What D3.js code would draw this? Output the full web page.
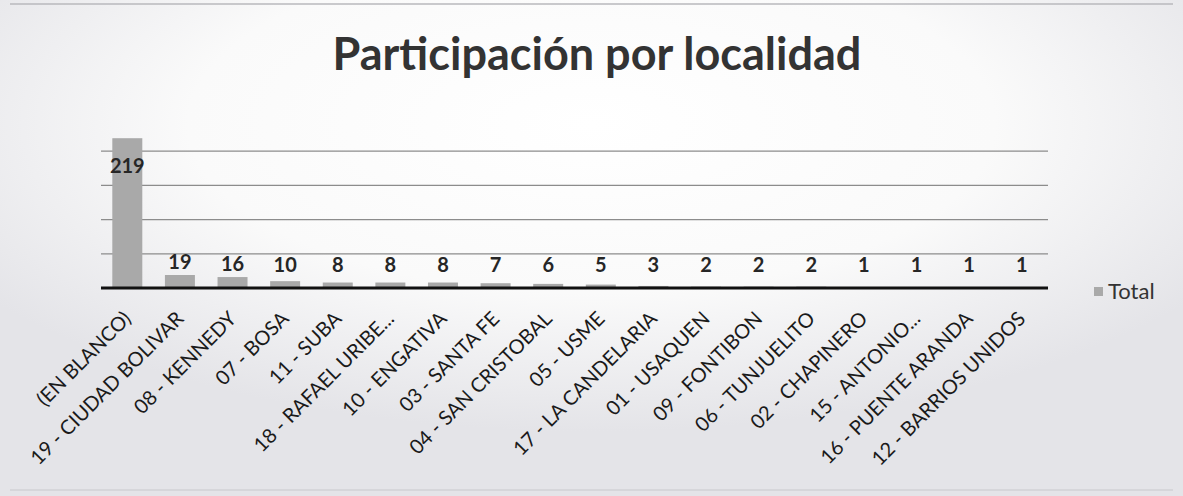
<!DOCTYPE html>
<html>
<head>
<meta charset="utf-8">
<script src="https://cdn.jsdelivr.net/npm/d3@7"></script>
<style>
  body { margin: 0; background: #ebebee; }
  text { font-family: Lato, 'Open Sans', sans-serif; }
</style>
</head>
<body>
<div id="container"></div>
<script>
// data
const localidades = [
  '(EN BLANCO)', '19 - CIUDAD BOLIVAR', '08 - KENNEDY', '07 - BOSA', '11 - SUBA',
  '18 - RAFAEL URIBE...', '10 - ENGATIVA', '03 - SANTA FE', '04 - SAN CRISTOBAL',
  '05 - USME', '17 - LA CANDELARIA', '01 - USAQUEN', '09 - FONTIBON',
  '06 - TUNJUELITO', '02 - CHAPINERO', '15 - ANTONIO...', '16 - PUENTE ARANDA',
  '12 - BARRIOS UNIDOS'
];
const totales = [219, 19, 16, 10, 8, 8, 8, 7, 6, 5, 3, 2, 2, 2, 1, 1, 1, 1];
const gridValues = [50, 100, 150, 200];
const seriesName = 'Total';
const title = 'Participación por localidad';

const width = 1183;
const height = 496;

const data = localidades.map((d, i) => ({ name: d, value: totales[i] }));

let base = d3.select('#container');

const svg = base
  .append('svg')
  .attr('width', width)
  .attr('height', height);

// background, scanned paper look: white centre, grey edges
const defs = svg.append('defs');
const grad = defs
  .append('radialGradient')
  .attr('id', 'paper')
  .attr('cx', 0.5)
  .attr('cy', 0.25)
  .attr('r', 0.62);
grad.append('stop').attr('offset', '0%').attr('stop-color', '#ffffff');
grad.append('stop').attr('offset', '55%').attr('stop-color', '#fafafa');
grad.append('stop').attr('offset', '100%').attr('stop-color', '#e4e4e8');

svg
  .append('rect')
  .attr('x', 0)
  .attr('y', 0)
  .attr('width', width)
  .attr('height', height)
  .attr('fill', 'url(#paper)');

// faint border lines of the printed chart
svg
  .append('line')
  .attr('x1', 10)
  .attr('x2', width - 10)
  .attr('y1', 4)
  .attr('y2', 4)
  .attr('stroke', '#b8b8bc')
  .attr('stroke-width', 1.5);
svg
  .append('line')
  .attr('x1', 10)
  .attr('x2', width - 10)
  .attr('y1', 490)
  .attr('y2', 490)
  .attr('stroke', '#d2d2d6')
  .attr('stroke-width', 1.5);

// scales
const margin = { left: 101, right: 135, top: 117, bottom: 208 };
const xScale = d3
  .scaleBand()
  .domain(localidades)
  .range([margin.left, width - margin.right])
  .paddingInner(0.43)
  .paddingOuter(0.215);

const yScale = d3
  .scaleLinear()
  .domain([0, 250])
  .range([height - margin.bottom, margin.top]);

const y0 = yScale(0);

// gridlines
svg
  .selectAll('.grid')
  .data(gridValues)
  .enter()
  .append('line')
  .attr('class', 'grid')
  .attr('x1', margin.left)
  .attr('x2', width - margin.right)
  .attr('y1', d => yScale(d))
  .attr('y2', d => yScale(d))
  .attr('stroke', '#8c8c8c')
  .attr('stroke-width', 1.2);

// bars
svg
  .selectAll('.bar')
  .data(data)
  .enter()
  .append('rect')
  .attr('class', 'bar')
  .attr('x', d => xScale(d.name))
  .attr('y', d => yScale(d.value))
  .attr('width', xScale.bandwidth())
  .attr('height', d => y0 - yScale(d.value))
  .attr('fill', '#a9a9a9');

// x axis line
svg
  .append('line')
  .attr('x1', margin.left)
  .attr('x2', width - margin.right)
  .attr('y1', y0)
  .attr('y2', y0)
  .attr('stroke', '#111')
  .attr('stroke-width', 3);

// data labels, inside the bar when it runs into the top
svg
  .selectAll('.label')
  .data(data)
  .enter()
  .append('text')
  .attr('class', 'label')
  .attr('x', d => xScale(d.name) + xScale.bandwidth() / 2)
  .attr('y', d => {
    let top = yScale(d.value);
    if (top - 30 < margin.top + 20) return top + 35;
    return Math.min(top - 6, y0 - 16);
  })
  .attr('text-anchor', 'middle')
  .attr('font-size', 20)
  .attr('font-weight', 'bold')
  .attr('fill', '#262626')
  .text(d => d.value);

// category labels rotated
const xAxis = d3.axisBottom(xScale).tickSize(0).tickPadding(0);
const gx = svg
  .append('g')
  .attr('transform', `translate(0,${y0})`)
  .call(xAxis);
gx.select('.domain').remove();
gx.selectAll('text')
  .attr('font-family', 'Lato, sans-serif')
  .attr('font-size', 20)
  .attr('fill', '#1a1a1a')
  .attr('text-anchor', 'end')
  .attr('dy', 0)
  .attr('transform', 'translate(5,32) rotate(-45)');

// title
svg
  .append('text')
  .attr('x', 597)
  .attr('y', 70)
  .attr('text-anchor', 'middle')
  .attr('font-size', 45)
  .attr('font-weight', 'bold')
  .attr('fill', '#333')
  .text(title);

// legend
const legend = svg.append('g').attr('transform', 'translate(1094,292)');
legend
  .append('rect')
  .attr('x', 0)
  .attr('y', -5)
  .attr('width', 9)
  .attr('height', 9)
  .attr('fill', '#a9a9a9');
legend
  .append('text')
  .attr('x', 14)
  .attr('y', 7)
  .attr('font-size', 22)
  .attr('fill', '#333')
  .text(seriesName);
</script>
</body>
</html>
